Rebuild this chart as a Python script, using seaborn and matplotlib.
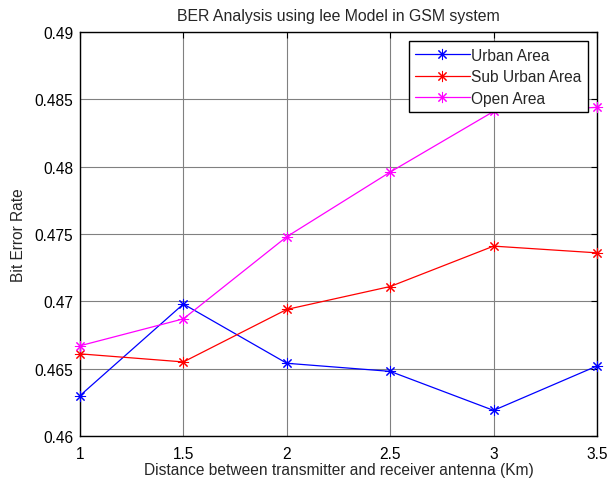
import matplotlib
matplotlib.use("Agg")
import matplotlib.pyplot as plt
import seaborn as sns
import pandas as pd

distance = [1, 1.5, 2, 2.5, 3, 3.5]
urban = [0.4630, 0.4698, 0.4654, 0.4648, 0.4619, 0.4652]
suburban = [0.4661, 0.4655, 0.4694, 0.4711, 0.4741, 0.4736]
open_area = [0.4667, 0.4687, 0.4748, 0.4796, 0.4841, 0.4844]
series_names = ["Urban Area", "Sub Urban Area", "Open Area"]
colors = ["#0000ff", "#ff0000", "#ff00ff"]

rows = []
for name, vals in zip(series_names, [urban, suburban, open_area]):
    for d, v in zip(distance, vals):
        rows.append({"Distance": d, "BER": v, "Area": name})
df = pd.DataFrame(rows)

sns.set_style("white")
plt.rcParams['font.family'] = ['Liberation Sans', 'DejaVu Sans']

fig = plt.figure(figsize=(6.08, 4.85), dpi=100)
ax = fig.add_axes([80/608, 1 - 437/485, (597-80)/608, (437-33)/485])

sns.lineplot(data=df, x="Distance", y="BER", hue="Area", hue_order=series_names,
             palette=colors, marker=(8, 2, 0), markersize=8, markeredgewidth=0.75,
             linewidth=0.9, ax=ax, legend=False)

for line in ax.lines:
    line.set_markeredgecolor(line.get_color())
    line.set_markerfacecolor(line.get_color())
    line.set_clip_on(False)
    line.set_zorder(3)

ax.set_xlim(1, 3.5)
ax.set_ylim(0.46, 0.49)
ax.set_xticks([1, 1.5, 2, 2.5, 3, 3.5])
ax.set_xticklabels(["1", "1.5", "2", "2.5", "3", "3.5"])
ax.set_yticks([0.46, 0.465, 0.47, 0.475, 0.48, 0.485, 0.49])
ax.set_yticklabels(["0.46", "0.465", "0.47", "0.475", "0.48", "0.485", "0.49"])
ax.grid(True, color="#808080", linewidth=0.8)
ax.set_axisbelow(True)
ax.tick_params(direction="in", length=4, labelsize=11.2, top=True, right=True,
               colors="black")
ax.tick_params(axis="x", pad=7)
ax.tick_params(axis="y", pad=5)
for s in ax.spines.values():
    s.set_color("black")
    s.set_linewidth(1.0)

ax.set_xlabel("Distance between transmitter and receiver antenna (Km)", fontsize=11.2, labelpad=1)
ax.set_ylabel("Bit Error Rate", fontsize=11.2, labelpad=6)
ax.set_title("BER Analysis using lee Model in GSM system", fontsize=11.4, pad=9)

leg = ax.legend(ax.lines[:3], series_names, loc="upper right", fontsize=11.2,
                frameon=True, fancybox=False, framealpha=1,
                edgecolor="black", handlelength=3.5, borderaxespad=0.6,
                handletextpad=0.1, labelspacing=0.42, borderpad=0.4)
leg.get_frame().set_linewidth(1.0)
leg.set_zorder(5)

fig.savefig("out.png", dpi=100, facecolor="white")
